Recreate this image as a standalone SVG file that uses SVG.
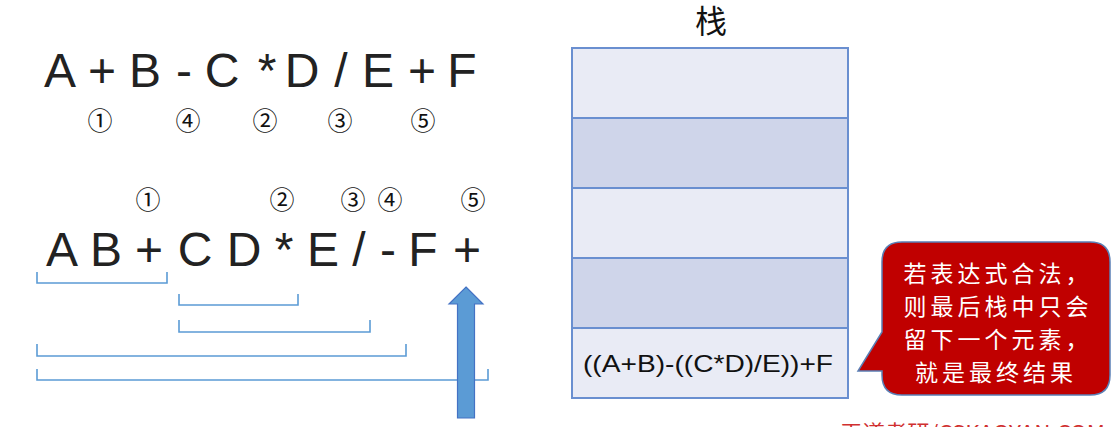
<svg xmlns="http://www.w3.org/2000/svg" width="1120" height="427" viewBox="0 0 1120 427">
<style>
.big{font-family:"Liberation Sans",Arial,sans-serif;font-size:48px;fill:#222;text-anchor:middle}
.num{font-family:"Noto Sans CJK SC","DejaVu Sans",sans-serif;font-size:25px;fill:#111;text-anchor:middle}
.br{fill:none;stroke:#5B9BD5;stroke-width:1.6}
.light{fill:#E9EBF5;stroke:#6A8FD0;stroke-width:2}
.dark{fill:#CFD5EA;stroke:#6A8FD0;stroke-width:2}
.ct{font-family:"Noto Sans CJK SC",sans-serif;font-size:23px;letter-spacing:4px;fill:#fff;text-anchor:middle}
</style>
<rect width="1120" height="427" fill="#fff"/>
<g id="expr-infix">
<text class="big" x="60" y="87">A</text>
<text class="big" x="102" y="87">+</text>
<text class="big" x="145" y="87">B</text>
<text class="big" x="184" y="87">-</text>
<text class="big" x="222" y="87">C</text>
<text class="big" x="267" y="87">*</text>
<text class="big" x="302" y="87">D</text>
<text class="big" x="341" y="87">/</text>
<text class="big" x="378" y="87">E</text>
<text class="big" x="422" y="87">+</text>
<text class="big" x="462" y="87">F</text>
<text class="num" x="100" y="130">①</text>
<text class="num" x="188" y="130">④</text>
<text class="num" x="265" y="130">②</text>
<text class="num" x="340" y="130">③</text>
<text class="num" x="423" y="130">⑤</text>
</g>
<g id="expr-postfix">
<text class="big" x="62" y="266">A</text>
<text class="big" x="106" y="266">B</text>
<text class="big" x="149" y="266">+</text>
<text class="big" x="195" y="266">C</text>
<text class="big" x="244" y="266">D</text>
<text class="big" x="284" y="266">*</text>
<text class="big" x="323" y="266">E</text>
<text class="big" x="359" y="266">/</text>
<text class="big" x="388" y="266">-</text>
<text class="big" x="423" y="266">F</text>
<text class="big" x="467" y="266">+</text>
<text class="num" x="148" y="209">①</text>
<text class="num" x="282" y="209">②</text>
<text class="num" x="353" y="209">③</text>
<text class="num" x="390" y="209">④</text>
<text class="num" x="473" y="209">⑤</text>
</g>
<g id="connectors">
<path class="br" d="M37,272 V283 H167 V272"/>
<path class="br" d="M179,294 V305 H298 V294"/>
<path class="br" d="M179,320 V332 H370 V320"/>
<path class="br" d="M37,344 V356 H406 V344"/>
<path class="br" d="M37,369 V380 H488 V369"/>
</g>
<g id="scan-arrow">
<path d="M466,287 L483,304 L474.5,304 L474.5,418 L457.5,418 L457.5,304 L449,304 Z" fill="#5B9BD5" stroke="#4472C4" stroke-width="1.2"/>
</g>
<g id="stack">
<text x="711" y="33" font-family="'Noto Sans CJK SC',sans-serif" font-size="32" fill="#111" text-anchor="middle">栈</text>
<rect class="light" x="572" y="48" width="276" height="70"/>
<rect class="dark" x="572" y="118" width="276" height="70"/>
<rect class="light" x="572" y="188" width="276" height="70"/>
<rect class="dark" x="572" y="258" width="276" height="70"/>
<rect class="light" x="572" y="328" width="276" height="70"/>
<text x="583" y="372" font-family="'Liberation Sans',Arial,sans-serif" font-size="24" fill="#111" textLength="250" lengthAdjust="spacingAndGlyphs">((A+B)-((C*D)/E))+F</text>
</g>
<g id="callout">
<path d="M902,242 H1090 Q1110,242 1110,262 V375 Q1110,395 1090,395 H902 Q882,395 882,375 V371 L858,371 L882,332 V262 Q882,242 902,242 Z" fill="#C00000" stroke="#5A7FB5" stroke-width="1.5"/>
<text class="ct" x="998" y="282">若表达式合法，</text>
<text class="ct" x="998" y="315">则最后栈中只会</text>
<text class="ct" x="998" y="348">留下一个元素，</text>
<text class="ct" x="996" y="381">就是最终结果</text>
</g>
<g id="watermark">
<text x="840" y="440" font-family="'Noto Sans CJK SC',sans-serif" font-size="20" fill="#D03030" textLength="265" lengthAdjust="spacingAndGlyphs">王道考研/CSKAOYAN.COM</text>
</g>
</svg>
